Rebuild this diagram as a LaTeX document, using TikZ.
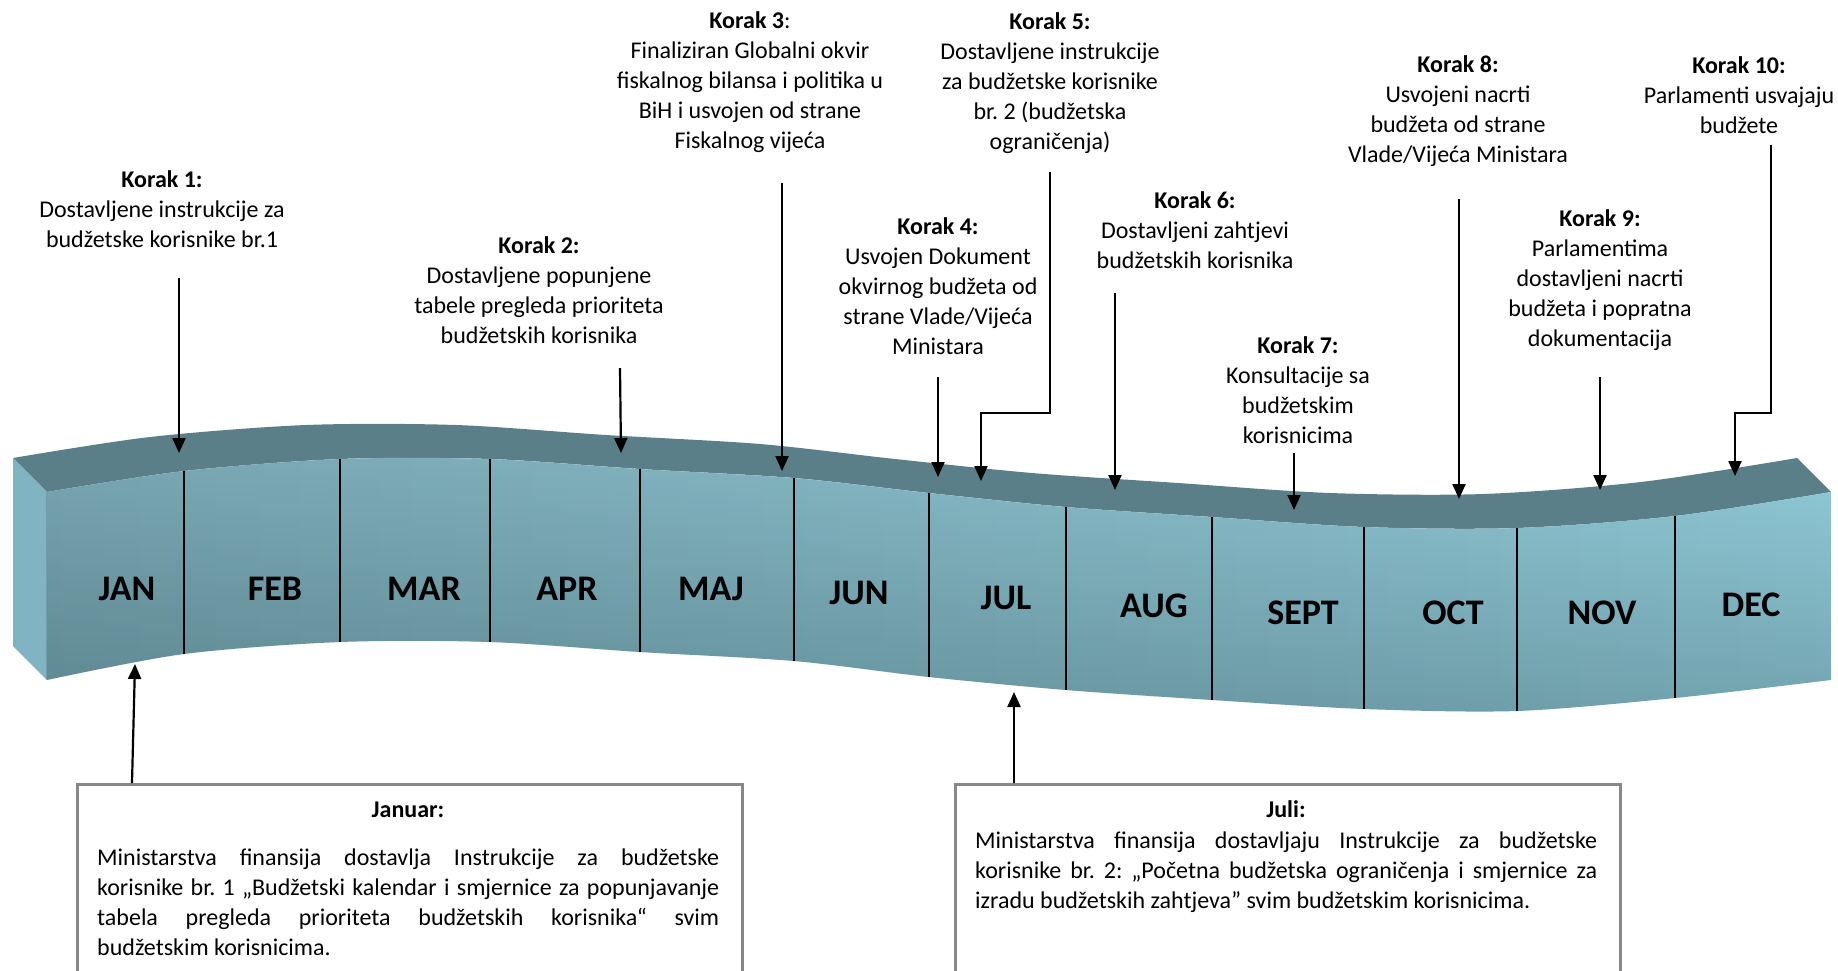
\documentclass[tikz,border=0pt]{standalone}
\usepackage{fontspec}
\setmainfont{Carlito}
\usetikzlibrary{arrows.meta,fadings}

\definecolor{topface}{HTML}{5B7F88}
\definecolor{sideface}{HTML}{80B4C2}
\definecolor{frontlo}{HTML}{72A4B0}
\definecolor{fronthi}{HTML}{92CAD8}
\definecolor{boxline}{HTML}{888888}

\begin{document}
\frenchspacing
\begin{tikzpicture}[x=1pt, y=-1pt]
	  \tikzstyle{korak} = [align=center, font=\fontsize{24}{30}\selectfont, inner sep=0pt]
	  \tikzstyle{month} = [font=\fontsize{36}{40}\selectfont\bfseries, inner sep=0pt]
	  \tikzstyle{divider} = [line width=1.8pt]
	  \tikzstyle{arrow} = [line width=2.2pt, -{Triangle[length=15pt, width=13pt]}]
	  \tikzstyle{infobox} = [draw=boxline, line width=2.5pt, minimum width=665pt, minimum height=240pt, anchor=north west, inner sep=0pt]
	  \tikzstyle{boxtitle} = [font=\fontsize{24}{30}\selectfont\bfseries, inner sep=0pt]
	  \tikzstyle{boxtext} = [font=\fontsize{24}{30}\selectfont, text width=622pt, align=justify, anchor=north west, inner sep=0pt]
	  \clip (0,0) rectangle (1838,970);
	  % the band: top face, left face, front face
	  \fill[topface] plot[smooth] coordinates {(13,458) (150,437) (306,425) (456,425) (606,435) (760,444) (895,459) (1032,473) (1178,483) (1330,493) (1483,494) (1641,482) (1797,458)}
	    -- plot[smooth] coordinates {(1831,492) (1675,516) (1517,528) (1364,527) (1212,517) (1066,507) (929,493) (794,478) (640,469) (490,459) (340,459) (184,471) (47,492)} -- cycle;
	  \fill[sideface] (13,458) -- (47,492) -- (47,680) -- (13,646) -- cycle;
	  \shade[top color=fronthi, bottom color=frontlo, postaction={fill=black, fill opacity=0.18, path fading=east}] plot[smooth] coordinates {(47,492) (184,471) (340,459) (490,459) (640,469) (794,478) (929,493) (1066,507) (1212,517) (1364,527) (1517,528) (1675,516) (1831,492)}
	    -- plot[smooth] coordinates {(1831,680) (1675,698) (1517,711) (1364,709) (1212,700) (1066,690) (929,677) (794,661) (640,652) (490,642) (340,642) (184,654) (47,680)} -- cycle;
	  \foreach \x/\a/\b in {184/471/654, 340/459/642, 490/459/642, 640/469/652, 794/478/661, 929/493/677, 1066/507/690, 1212/517/700, 1364/527/709, 1517/528/711, 1675/516/698}
	    \draw[divider] (\x,\a) -- (\x,\b);
	  \foreach \m/\x/\y in {JAN/127/589, FEB/275/589, MAR/424/589, APR/567/589, MAJ/711/589, JUN/859/593, JUL/1006/598, AUG/1154/606, SEPT/1303/613, OCT/1453/613, NOV/1602/613, DEC/1751/605}
	    \node[month] (\m) at (\x,\y) {\m};

	  % steps above the band
	  \node[korak] (k1) at (162,209) {\textbf{Korak 1:}\\Dostavljene instrukcije za\\budžetske korisnike br.1};
	  \node[korak] (k2) at (539,290) {\textbf{Korak 2:}\\Dostavljene popunjene\\tabele pregleda prioriteta\\budžetskih korisnika};
	  \node[korak] (k3) at (750,82.5) {\textbf{Korak 3}:\\Finaliziran Globalni okvir\\fiskalnog bilansa i politika u\\BiH i usvojen od strane\\Fiskalnog vijeća};
	  \node[korak] (k4) at (938,286) {\textbf{Korak 4:}\\Usvojen Dokument\\okvirnog budžeta od\\strane Vlade/Vijeća\\Ministara};
	  \node[korak] (k5) at (1050,83.5) {\textbf{Korak 5:}\\Dostavljene instrukcije\\za budžetske korisnike\\br. 2 (budžetska\\ograničenja)};
	  \node[korak] (k6) at (1195,230) {\textbf{Korak 6:}\\Dostavljeni zahtjevi\\budžetskih korisnika};
	  \node[korak] (k7) at (1298,390) {\textbf{Korak 7:}\\Konsultacije sa\\budžetskim\\korisnicima};
	  \node[korak] (k8) at (1458,111.5) {\textbf{Korak 8:}\\Usvojeni nacrti\\budžeta od strane\\Vlade/Vijeća Ministara};
	  \node[korak] (k9) at (1600,280.5) {\textbf{Korak 9:}\\Parlamentima\\dostavljeni nacrti\\budžeta i popratna\\dokumentacija};
	  \node[korak] (k10) at (1739,95) {\textbf{Korak 10:}\\Parlamenti usvajaju\\budžete};

	  \coordinate (k1top) at (179,278);   \coordinate (k1tip) at (179,453);
	  \coordinate (k2top) at (620,368);   \coordinate (k2tip) at (621,453);
	  \coordinate (k3top) at (782,183);   \coordinate (k3tip) at (782,471);
	  \coordinate (k4top) at (938,377);   \coordinate (k4tip) at (938,477);
	  \coordinate (k5top) at (1050,172);  \coordinate (k5bend) at (981,413);  \coordinate (k5tip) at (981,481);
	  \coordinate (k6top) at (1115,293);  \coordinate (k6tip) at (1115,490);
	  \coordinate (k7top) at (1294,453);  \coordinate (k7tip) at (1294,510);
	  \coordinate (k8top) at (1459,199);  \coordinate (k8tip) at (1459,499);
	  \coordinate (k9top) at (1600,377);  \coordinate (k9tip) at (1600,490);
	  \coordinate (k10top) at (1771,145); \coordinate (k10bend) at (1735,413); \coordinate (k10tip) at (1735,476);
	  \foreach \k in {1,2,3,4,6,7,8,9}
	    \draw[arrow] (k\k top) -- (k\k tip);
	  \draw[arrow] (k5top) |- (k5bend) -- (k5tip);
	  \draw[arrow] (k10top) |- (k10bend) -- (k10tip);

	  % boxes below the band
	  \node[infobox] (janbox) at (76,783) {};
	  \node[boxtitle] (jantitle) at (408,810) {Januar:};
	  \node[boxtext] (jantext) at (97,848.5) {Ministarstva finansija dostavlja Instrukcije za budžetske\linebreak korisnike br. 1 „Budžetski kalendar i smjernice za popunjavanje\linebreak tabela pregleda prioriteta budžetskih korisnika“ svim\linebreak budžetskim korisnicima.};
	  \node[infobox] (julbox) at (954,783) {};
	  \node[boxtitle] (jultitle) at (1286,809) {Juli:};
	  \node[boxtext] (jultext) at (975,831.5) {Ministarstva finansija dostavljaju Instrukcije za budžetske\linebreak korisnike br. 2: „Početna budžetska ograničenja i smjernice za\linebreak izradu budžetskih zahtjeva” svim budžetskim korisnicima.};
	  \coordinate (janfoot) at (132,783); \coordinate (jantip) at (135,664);
	  \coordinate (julfoot) at (1014,783); \coordinate (jultip) at (1014,692);
	  \draw[arrow] (janfoot) -- (jantip);
	  \draw[arrow] (julfoot) -- (jultip);
	\end{tikzpicture}
\end{document}
